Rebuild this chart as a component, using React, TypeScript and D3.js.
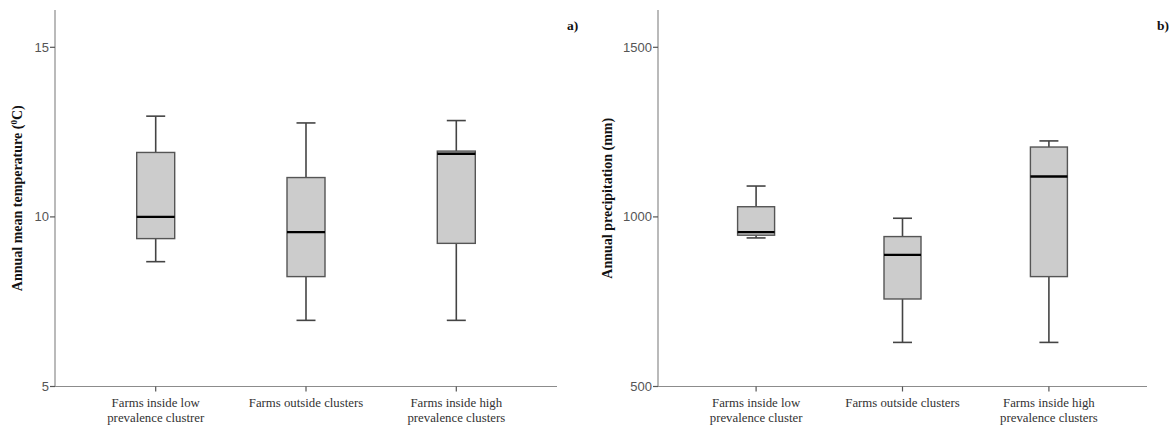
import * as d3 from "d3";

// categories (x axis), two lines each
const tempCategories = [
  ["Farms inside low", "prevalence clustrer"],
  ["Farms outside clusters"],
  ["Farms inside high", "prevalence clusters"],
];
const precCategories = [
  ["Farms inside low", "prevalence cluster"],
  ["Farms outside clusters"],
  ["Farms inside high", "prevalence clusters"],
];

// box stats: [low whisker, Q1, median, Q3, high whisker]
const tempStats = [
  [8.68, 9.36, 10.0, 11.9, 12.97],
  [6.95, 8.24, 9.55, 11.16, 12.77],
  [6.95, 9.22, 11.86, 11.94, 12.84],
];
const precStats = [
  [938, 946, 955, 1030, 1091],
  [630, 758, 888, 942, 996],
  [630, 824, 1119, 1206, 1224],
];

const tempTicks = [5, 10, 15];
const precTicks = [500, 1000, 1500];

const serif = "'Liberation Serif', 'Times New Roman', serif";
const sans = "'Liberation Sans', Arial, sans-serif";

function BoxPanel({ x0, x1, yDomain, ticks, stats, categories, title, tag, boxW, labelOffset }) {
  const top = 10;
  const bottom = 386.5;
  const tickTop = 47.3;
  const yScale = d3.scaleLinear(yDomain, [bottom, tickTop]);
  const xScale = d3
    .scalePoint(d3.range(categories.length), [x0, x1])
    .padding(0.67);
  const capW = 19;

  return (
    <g>
      {/* y axis */}
      <line x1={x0} x2={x0} y1={top} y2={bottom} stroke="#8c8c8c" strokeWidth={1.2} />
      {ticks.map((t) => (
        <g key={t} transform={`translate(${x0},${yScale(t)})`}>
          <line x1={-5} x2={0} stroke="#555" strokeWidth={1.2} />
          <text x={-6} dy="0.35em" textAnchor="end" fontFamily={sans} fontSize={13} fill="#555">
            {t}
          </text>
        </g>
      ))}
      {/* x axis */}
      <line x1={x0} x2={x1} y1={bottom} y2={bottom} stroke="#8c8c8c" strokeWidth={1.2} />
      {categories.map((lines, i) => (
        <g key={i} transform={`translate(${xScale(i)},${bottom})`}>
          <line y1={0} y2={5} stroke="#555" strokeWidth={1.2} />
          <text textAnchor="middle" fontFamily={serif} fontSize={12.8} fill="#333">
            {lines.map((l, j) => (
              <tspan key={j} x={0} y={20 + j * 15.5}>
                {l}
              </tspan>
            ))}
          </text>
        </g>
      ))}
      {/* boxes */}
      {stats.map((s, i) => {
        const cx = xScale(i);
        const [lo, q1, med, q3, hi] = s.map((v) => yScale(v));
        return (
          <g key={i}>
            <line x1={cx} x2={cx} y1={hi} y2={q3} stroke="#444" strokeWidth={1.6} />
            <line x1={cx} x2={cx} y1={q1} y2={lo} stroke="#444" strokeWidth={1.6} />
            <line x1={cx - capW / 2} x2={cx + capW / 2} y1={hi} y2={hi} stroke="#444" strokeWidth={1.6} />
            <line x1={cx - capW / 2} x2={cx + capW / 2} y1={lo} y2={lo} stroke="#444" strokeWidth={1.6} />
            <rect
              x={cx - boxW / 2}
              y={q3}
              width={boxW}
              height={q1 - q3}
              fill="#cccccc"
              stroke="#555"
              strokeWidth={1.4}
            />
            <line x1={cx - boxW / 2} x2={cx + boxW / 2} y1={med} y2={med} stroke="#000" strokeWidth={2.4} />
          </g>
        );
      })}
      {/* y label */}
      <text
        transform={`translate(${x0 - labelOffset},${(top + bottom) / 2}) rotate(-90)`}
        textAnchor="middle"
        fontFamily={serif}
        fontWeight="bold"
        fontSize={14}
        fill="#111"
      >
        {title}
      </text>
      <text x={x1 + 10} y={30} fontFamily={serif} fontWeight="bold" fontSize={13.5} fill="#111">
        {tag}
      </text>
    </g>
  );
}

export default function App() {
  return (
    <svg
      width={1169}
      height={425}
      style={{ position: "absolute", left: 0, top: 0, background: "#fff" }}
    >
      <BoxPanel
        x0={55}
        x1={557}
        yDomain={[5, 15]}
        ticks={tempTicks}
        stats={tempStats}
        categories={tempCategories}
        boxW={38}
        labelOffset={33}
        tag="a)"
        title={
          <>
            Annual mean temperature (
            <tspan fontSize={9} dy={-5}>0</tspan>
            <tspan dy={5}>C)</tspan>
          </>
        }
      />
      <BoxPanel
        x0={658}
        x1={1147}
        yDomain={[500, 1500]}
        ticks={precTicks}
        stats={precStats}
        categories={precCategories}
        boxW={37}
        labelOffset={46}
        tag="b)"
        title="Annual precipitation (mm)"
      />
    </svg>
  );
}
